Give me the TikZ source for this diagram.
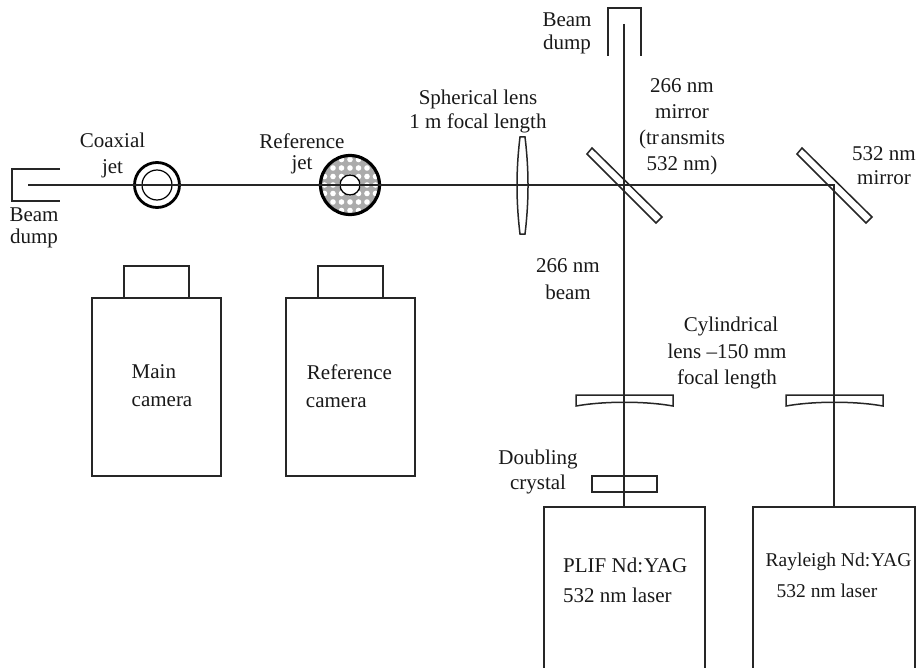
\documentclass[tikz,border=0pt]{standalone}
\usepackage{fontspec}
\setmainfont{Liberation Serif}
\begin{document}
\begin{tikzpicture}[x=1pt,y=-1pt,
  ln/.style={draw=black!85,line width=1.5pt,line join=miter},
  beam/.style={draw=black!85,line width=1.6pt},
  part/.style={draw=black!85,line width=1.5pt,fill=white,inner sep=0pt,outer sep=0pt},
  lbl/.style={font=\fontsize{21}{24}\selectfont,align=center,inner sep=0pt,text=black!90},
  ]
\useasboundingbox (0,0) rectangle (917,668);
% named beam points
\coordinate (dumpL) at (28,185);
\coordinate (dumpT) at (624,24);
\coordinate (mirA) at (624,185);
\coordinate (mirB) at (834,185);
\coordinate (laserP) at (624,507);
\coordinate (laserR) at (834,507);
% beam dumps
\draw[ln] (60,169) -- (12,169) -- (12,201) -- (60,201);
\draw[ln] (608,56) -- (608,8) -- (641,8) -- (641,56);
% mirrors
\draw[ln] (592,148) -- (587,154) -- (656,223) -- (662,217) -- cycle;
\draw[ln] (802,148) -- (797,154) -- (866,223) -- (872,217) -- cycle;
% spherical lens
\draw[ln,fill=white] (520,137) -- (525,137) .. controls (529,170) and (529,201) .. (525,234) -- (520,234) .. controls (516,201) and (516,170) .. (520,137) -- cycle;
% cylindrical lenses
\draw[ln] (576,395) -- (673,395) -- (673,406) .. controls (645,401) and (604,401) .. (576,406) -- cycle;
\draw[ln] (786,395) -- (883,395) -- (883,406) .. controls (855,401) and (814,401) .. (786,406) -- cycle;
% doubling crystal
\node[part,fill=none,minimum width=65pt,minimum height=16pt] (crystal) at (624.5,484) {};
% coaxial jet
\node[circle,draw=black,line width=2.8pt,minimum size=45pt,inner sep=0pt] (coax) at (157,185) {};
\node[circle,draw=black,line width=1.2pt,minimum size=30pt,inner sep=0pt] (coaxin) at (157,185) {};
% reference jet
\begin{scope}
\clip (350,185) circle (29);
\fill[black!33] (320,155) rectangle (380,215);
\foreach \i in {-4,...,4}{\foreach \j in {-4,...,4}{
  \fill[white] (350+\i*8.5,185+\j*8.5) circle (2.8);}}
\end{scope}
\node[circle,draw=black,line width=3.2pt,minimum size=59pt,inner sep=0pt] (refjet) at (350,185) {};
\node[circle,draw=black,line width=1.3pt,fill=white,minimum size=20pt,inner sep=0pt] (refin) at (350,185) {};
% beams
\draw[beam] (dumpL) -- (mirB) -- (laserR);
\draw[beam] (dumpT) -- (laserP);
% cameras
\node[part,minimum width=129pt,minimum height=178pt] (maincam) at (156.5,387) {};
\node[part,minimum width=65pt,minimum height=32pt] (maintop) at (156.5,282) {};
\node[part,minimum width=129pt,minimum height=178pt] (refcam) at (350.5,387) {};
\node[part,minimum width=65pt,minimum height=32pt] (reftop) at (350.5,282) {};
% lasers (run off the page)
\draw[ln] (544,668) -- (544,507) -- (705,507) -- (705,668);
\draw[ln] (753,668) -- (753,507) -- (915,507) -- (915,668);
% labels
\node[lbl,font=\fontsize{21}{26}\selectfont] (t1) at (112.5,155) {Coaxial\\jet\hspace{4pt}};
\node[lbl,font=\fontsize{21}{21}\selectfont] (t2) at (302,153.5) {Reference\\jet\hspace{12pt}};
\node[lbl,font=\fontsize{21}{22}\selectfont] (t3) at (34,228) {Beam\\dump};
\node[lbl,font=\fontsize{21}{23}\selectfont] (t4) at (567,33) {Beam\\dump};
\node[lbl,font=\fontsize{21}{24}\selectfont] (t5) at (478,111) {Spherical lens\\1 m focal length};
\node[lbl,font=\fontsize{21}{26}\selectfont] (t6) at (682,127) {266 nm\\mirror\\(tr\kern2pt ansmits\\532 nm)};
\node[lbl,font=\fontsize{21}{24}\selectfont] (t7) at (884,166) {532 nm\\mirror};
\node[lbl,font=\fontsize{21}{27}\selectfont] (t8) at (568,279.5) {266 nm\\beam};
\node[lbl,font=\fontsize{21}{26.5}\selectfont] (t9) at (727,353) {\hspace{8pt}Cylindrical\\lens –150 mm\\focal length};
\node[lbl,font=\fontsize{21}{25}\selectfont] (t10) at (538,472) {Doubling\\crystal};
\node[lbl,font=\fontsize{21}{28}\selectfont,align=left] (t11) at (162,386) {Main\\camera};
\node[lbl,font=\fontsize{21}{28}\selectfont,align=left] (t12) at (349,386) {\hspace{1pt}Reference\\camera};
\node[lbl,font=\fontsize{21}{30}\selectfont,align=left,anchor=west] (t13) at (563,580) {PLIF Nd:\kern1pt YAG\\532 nm laser};
\node[lbl,font=\fontsize{19.5}{29}\selectfont] (t14) at (838.5,562) {Rayleigh Nd:\kern1pt YAG};
\node[lbl,font=\fontsize{19.5}{29}\selectfont] (t15) at (827,591) {532 nm laser};
\end{tikzpicture}
\end{document}
